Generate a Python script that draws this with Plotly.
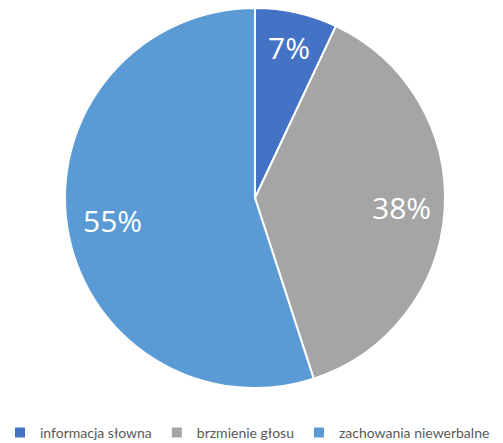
import math
import plotly.graph_objects as go

labels = ["informacja słowna", "brzmienie głosu", "zachowania niewerbalne"]
values = [7, 38, 55]
colors = ["#4472C4", "#A5A5A5", "#5B9BD5"]

W, H = 503, 443
MB = 40                      # bottom margin reserved for the legend
Hp = H - MB                  # plot-area height in px
dom_x = [65 / W, 445 / W]
dom_y = [1 - 388 / Hp, 1 - 8 / Hp]

fig = go.Figure(go.Pie(
    labels=labels,
    values=values,
    sort=False,
    direction="clockwise",
    rotation=0,
    marker=dict(colors=colors, line=dict(color="white", width=2)),
    textinfo="none",
    domain=dict(x=dom_x, y=dom_y),
    hoverinfo="label+percent",
))

# data labels placed along each slice's mid-angle (derived from the values)
cxf = (dom_x[0] + dom_x[1]) / 2
cyf = (dom_y[0] + dom_y[1]) / 2
R = min((dom_x[1] - dom_x[0]) * W, (dom_y[1] - dom_y[0]) * Hp) / 2
total = sum(values)
cum = 0
rfrac = [0.81, 0.77, 0.76]
for v, rf in zip(values, rfrac):
    mid = (cum + v / 2) / total * 2 * math.pi
    cum += v
    fig.add_annotation(
        x=cxf + rf * R * math.sin(mid) / W,
        y=cyf + rf * R * math.cos(mid) / Hp,
        xref="paper", yref="paper", xanchor="center", yanchor="middle",
        text=f"{v}%", showarrow=False,
        font=dict(color="white", size=30, family="Open Sans"),
    )

fig.update_layout(
    width=W, height=H,
    margin=dict(l=0, r=0, t=0, b=MB),
    paper_bgcolor="white",
    plot_bgcolor="white",
    showlegend=True,
    legend=dict(
        orientation="h",
        x=0, xanchor="left",
        y=1 - 433 / 443, yanchor="middle", yref="container",
        font=dict(size=14, color="#595959", family="Lato"),
        itemwidth=30,
    ),
)

fig.write_html("out.html", config={"displayModeBar": False},
               post_script="document.body.style.margin='0';")
